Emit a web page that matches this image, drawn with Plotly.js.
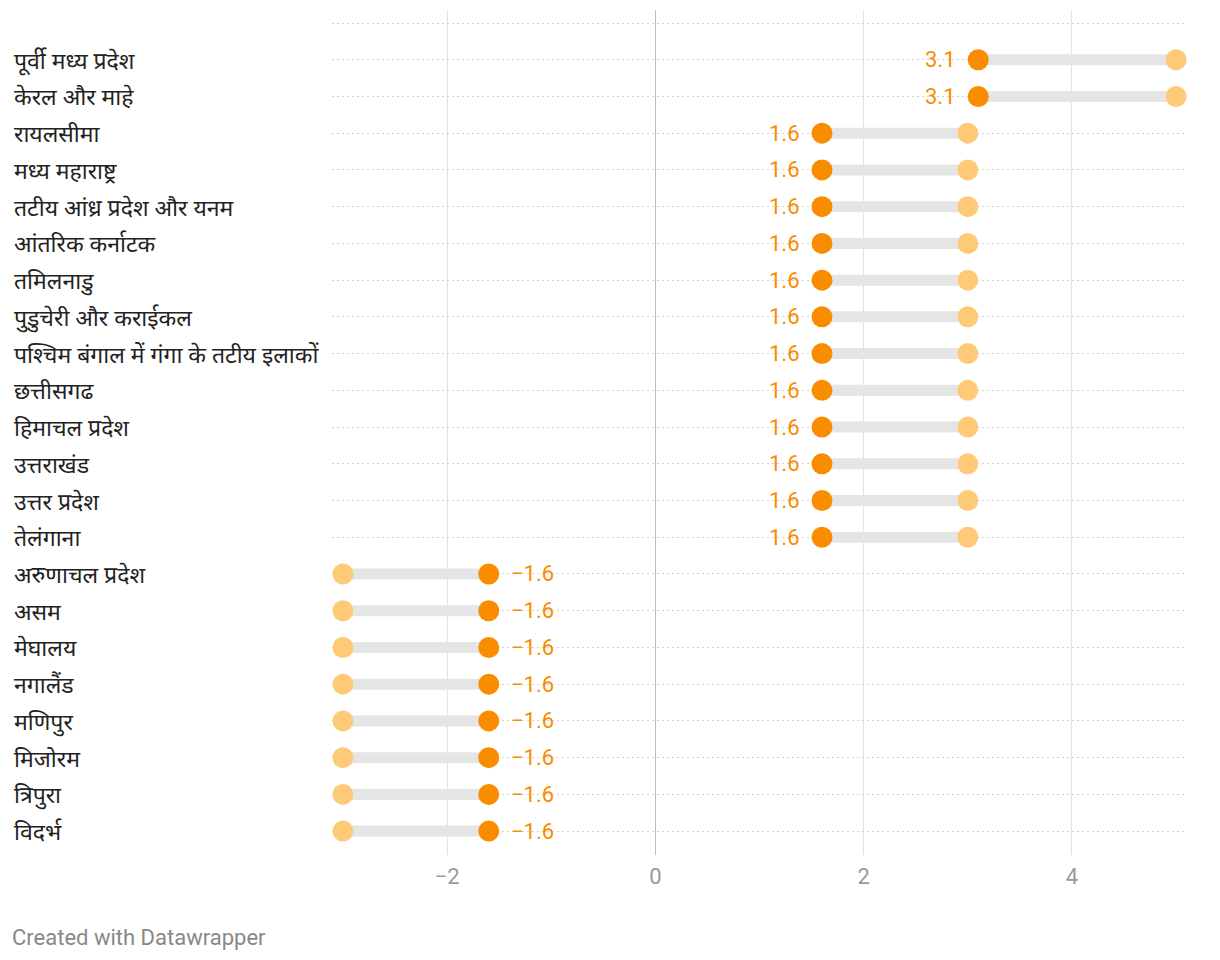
<!DOCTYPE html>
<html>
<head>
<meta charset="utf-8">
<script src="https://cdn.plot.ly/plotly-3.0.1.min.js"></script>
<style>
html,body{margin:0;padding:0;background:#fff;}
#chart{width:1220px;height:960px;}
</style>
</head>
<body>
<div id="chart"></div>
<script>
const categories = [
  "पूर्वी मध्य प्रदेश",
  "केरल और माहे",
  "रायलसीमा",
  "मध्य महाराष्ट्र",
  "तटीय आंध्र प्रदेश और यनम",
  "आंतरिक कर्नाटक",
  "तमिलनाडु",
  "पुडुचेरी और कराईकल",
  "पश्चिम बंगाल में गंगा के तटीय इलाकों",
  "छत्तीसगढ",
  "हिमाचल प्रदेश",
  "उत्तराखंड",
  "उत्तर प्रदेश",
  "तेलंगाना",
  "अरुणाचल प्रदेश",
  "असम",
  "मेघालय",
  "नगालैंड",
  "मणिपुर",
  "मिजोरम",
  "त्रिपुरा",
  "विदर्भ"
];
const startValues = [5, 5, 3, 3, 3, 3, 3, 3, 3, 3, 3, 3, 3, 3, -3, -3, -3, -3, -3, -3, -3, -3];
const endValues = [3.1, 3.1, 1.6, 1.6, 1.6, 1.6, 1.6, 1.6, 1.6, 1.6, 1.6, 1.6, 1.6, 1.6, -1.6, -1.6, -1.6, -1.6, -1.6, -1.6, -1.6, -1.6];
const xTickVals = [-2, 0, 2, 4];

const rows = categories.map((c, i) => i);
const lineX = [], lineY = [];
rows.forEach(i => {
  lineX.push(startValues[i], endValues[i], null);
  lineY.push(i, i, null);
});
const fmt = v => (v < 0 ? "\u2212" + Math.abs(v).toFixed(1) : v.toFixed(1));

const orange = "#fa8c00";
const light = "#ffca78";

const traces = [
  {
    x: lineX, y: lineY, mode: "lines", type: "scatter",
    line: {color: "#e5e5e5", width: 11},
    hoverinfo: "skip", cliponaxis: false
  },
  {
    x: startValues, y: rows, mode: "markers", type: "scatter",
    marker: {color: light, size: 21},
    hoverinfo: "skip", cliponaxis: false
  },
  {
    x: endValues, y: rows, mode: "markers", type: "scatter",
    marker: {color: orange, size: 21},
    hoverinfo: "skip", cliponaxis: false
  }
];

const ytv = [-1].concat(rows);
const annotations = categories.map((c, i) => ({
  xref: "paper", yref: "y", x: -0.3747, y: i,
  xanchor: "left", yanchor: "middle", showarrow: false,
  text: c, font: {family: "Noto Sans, Noto Sans Devanagari, sans-serif", size: 23, color: "#222"}
}));
endValues.forEach((v, i) => {
  const left = v < startValues[i];
  annotations.push({
    xref: "x", yref: "y", x: v, y: i,
    xanchor: left ? "right" : "left", yanchor: "middle",
    xshift: left ? -20 : 20, yshift: 0, showarrow: false,
    text: fmt(v),
    font: {family: "Roboto, sans-serif", size: 22, color: orange}
  });
});
annotations.push({
  xref: "paper", yref: "paper", x: -0.377, y: -0.098,
  xanchor: "left", yanchor: "middle", showarrow: false,
  text: "Created with Datawrapper",
  font: {family: "Roboto, sans-serif", size: 22, color: "#888"}
});

const layout = {
  width: 1220, height: 960,
  margin: {l: 332, r: 34, t: 10, b: 105},
  paper_bgcolor: "#fff", plot_bgcolor: "#fff",
  showlegend: false,
  xaxis: {
    range: [-3.105, 5.095], tickvals: xTickVals,
    showgrid: true, gridcolor: "#e2e2e2", gridwidth: 1,
    zeroline: true, zerolinecolor: "#bdbdbd", zerolinewidth: 1,
    showline: false, ticks: "", ticklabelstandoff: 6,
    tickfont: {family: "Roboto, sans-serif", size: 22, color: "#9a9a9a"},
    fixedrange: true
  },
  yaxis: {
    range: [21.65, -1.354], tickvals: ytv, ticktext: ytv.map(() => ""),
    showgrid: true, gridcolor: "#d2d2d2", griddash: "2px,3px", gridwidth: 1,
    zeroline: false, showline: false, ticks: "", showticklabels: false,
    fixedrange: true
  },
  annotations: annotations
};

Plotly.newPlot("chart", traces, layout, {displayModeBar: false, staticPlot: true});
</script>
</body>
</html>
